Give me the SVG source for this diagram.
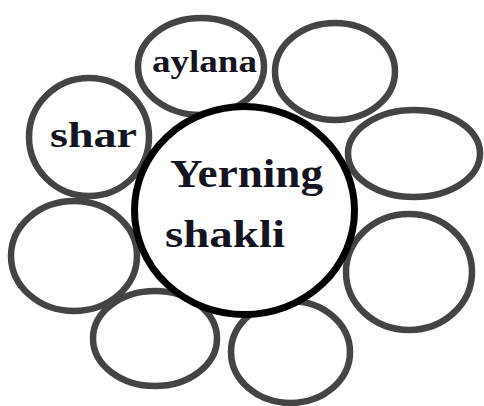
<svg xmlns="http://www.w3.org/2000/svg" width="484" height="406" viewBox="0 0 484 406">
<style>
.sat{fill:#fff;stroke:#444;stroke-width:6.5}
.hub{fill:#fff;stroke:#000;stroke-width:7}
.t{font-family:'Liberation Serif',serif;font-weight:bold;fill:#141420}
</style>
<rect width="484" height="406" fill="#fff"/>
<g id="n-aylana"><ellipse class="sat" cx="201" cy="66.5" rx="63" ry="48.5"/></g>
<g id="n-topright"><ellipse class="sat" cx="335" cy="71.5" rx="60" ry="48.5"/></g>
<g id="n-shar"><ellipse class="sat" cx="89" cy="137" rx="60" ry="59"/></g>
<g id="n-rightmid"><ellipse class="sat" cx="414" cy="153.5" rx="66" ry="43.5"/></g>
<g id="n-leftlow"><ellipse class="sat" cx="74" cy="256" rx="63" ry="55"/></g>
<g id="n-botleft"><ellipse class="sat" cx="155" cy="338.5" rx="62" ry="47.5"/></g>
<g id="n-botmid"><ellipse class="sat" cx="290.5" cy="352" rx="59.5" ry="51"/></g>
<g id="n-rightlow"><ellipse class="sat" cx="409" cy="272" rx="63" ry="58"/></g>
<g id="n-center"><ellipse class="hub" cx="244.5" cy="210.5" rx="110" ry="104"/></g>
<g id="connectors"></g>
<g id="labels">
<text class="t" x="152" y="72" font-size="32" textLength="105" lengthAdjust="spacingAndGlyphs">aylana</text>
<text class="t" x="50" y="147" font-size="35" textLength="87" lengthAdjust="spacingAndGlyphs">shar</text>
<text class="t" x="170" y="187" font-size="40" textLength="153" lengthAdjust="spacingAndGlyphs">Yerning</text>
<text class="t" x="165" y="247" font-size="38" textLength="120" lengthAdjust="spacingAndGlyphs">shakli</text>
</g>
</svg>
